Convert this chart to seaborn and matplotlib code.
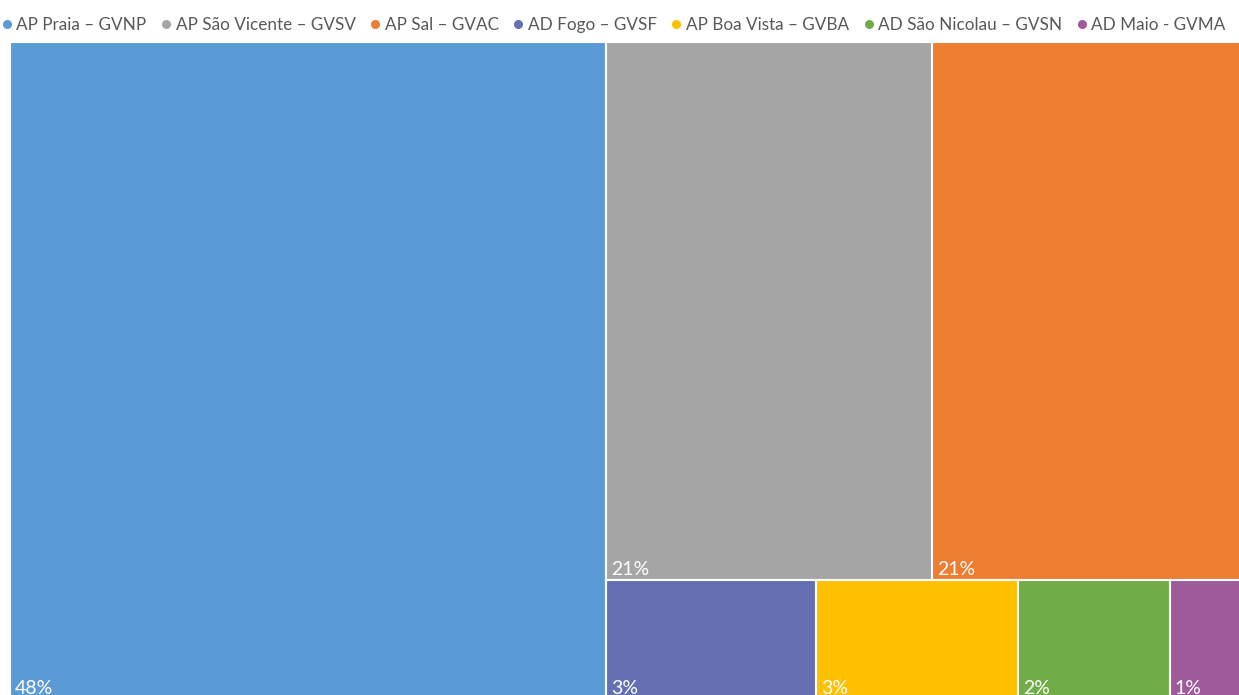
import matplotlib.pyplot as plt
from matplotlib.lines import Line2D
import seaborn as sns

# share of each aerodrome / airport
airports = ["AP Praia – GVNP", "AP São Vicente – GVSV", "AP Sal – GVAC", "AD Fogo – GVSF",
            "AP Boa Vista – GVBA", "AD São Nicolau – GVSN", "AD Maio - GVMA"]
shares = [48.0, 21.5, 21.1, 3.05, 2.95, 2.2, 1.2]
pct_labels = ["48%", "21%", "21%", "3%", "3%", "2%", "1%"]
colors = ["#5B9BD5", "#A5A5A5", "#ED7D31", "#6470B2", "#FFC000", "#70AD47", "#9E5A9A"]


def worst(row, side):
    s = sum(row)
    return max(max(side ** 2 * r / s ** 2, s ** 2 / (side ** 2 * r)) for r in row)


def squarify(values, x, y, w, h):
    """ plain squarified treemap layout, values already scaled to w*h """
    rects = []
    vals = list(values)
    while vals:
        side = min(w, h)
        row = [vals[0]]
        i = 1
        while i < len(vals) and worst(row + [vals[i]], side) <= worst(row, side):
            row.append(vals[i])
            i += 1
        vals = vals[i:]
        s = sum(row)
        if w >= h:
            cw = s / h
            yy = y
            for v in row:
                rects.append((x, yy, cw, v / cw))
                yy += v / cw
            x += cw
            w -= cw
        else:
            rh = s / w
            xx = x
            for v in row:
                rects.append((xx, y, v / rh, rh))
                xx += v / rh
            y += rh
            h -= rh
    return rects


sns.set_theme(style="white")
plt.rcParams['font.family'] = ['Lato', 'DejaVu Sans']

W, H = 1242, 657
total = sum(shares)
rects = squarify([v / total * W * H for v in shares], 0, 0, W, H)

fig = plt.figure(figsize=(12.39, 6.95), dpi=100)
ax = fig.add_axes([10 / 1239, 1 - (42 + H) / 695, W / 1239, H / 695])

for (x, y, w, h), c, lab in zip(rects, colors, pct_labels):
    ax.bar(x, h, width=w, bottom=y, align='edge', color=c, edgecolor='white', linewidth=1.5)
    ax.text(x + 5, y + h - 2, lab, color='white', fontsize=14, ha='left', va='bottom')

ax.set_xlim(0, W)
ax.set_ylim(H, 0)
ax.axis('off')

handles = [Line2D([], [], marker='o', linestyle='', color=c, markersize=5.5) for c in colors]
fig.legend(handles, airports, loc='center', bbox_to_anchor=(0.494, 1 - 25 / 695), ncol=7,
           frameon=False, fontsize=12.3, labelcolor='#595959', handletextpad=0.05,
           columnspacing=0.65, handlelength=1.0, borderpad=0)

plt.savefig('out.png', dpi=100)
